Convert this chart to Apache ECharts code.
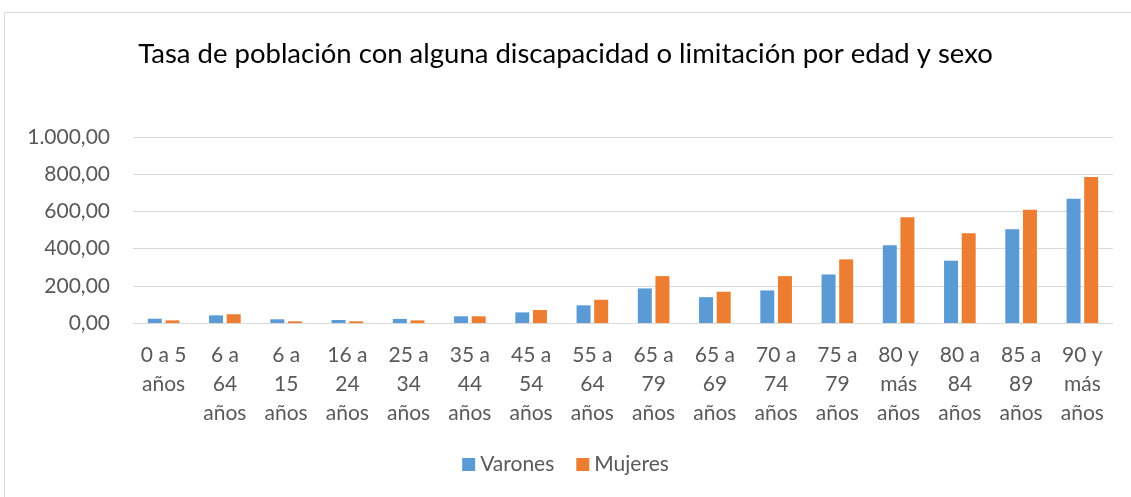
<!DOCTYPE html>
<html>
<head>
<meta charset="utf-8">
<script src="https://cdn.jsdelivr.net/npm/echarts@6/dist/echarts.min.js"></script>
<style>
  html, body { margin: 0; padding: 0; background: #fff; }
  #frame {
    position: absolute; left: 4px; top: 12px; width: 1140px; height: 500px;
    border: 1px solid #d9d9d9; box-sizing: border-box;
  }
  #chart { position: absolute; left: 0; top: 0; width: 1131px; height: 497px; }
</style>
</head>
<body>
<div id="frame"></div>
<div id="chart"></div>
<script>
// categorías (grupos de edad)
const categories = [
  '0 a 5\naños', '6 a\n64\naños', '6 a\n15\naños', '16 a\n24\naños',
  '25 a\n34\naños', '35 a\n44\naños', '45 a\n54\naños', '55 a\n64\naños',
  '65 a\n79\naños', '65 a\n69\naños', '70 a\n74\naños', '75 a\n79\naños',
  '80 y\nmás\naños', '80 a\n84\naños', '85 a\n89\naños', '90 y\nmás\naños'
]
// tasa varones
const varones = [23, 41, 20, 16, 22, 36, 57, 95, 186, 139, 175, 261, 418, 335, 504, 668]
// tasa mujeres
const mujeres = [14, 47, 9, 9, 14, 36, 70, 125, 252, 168, 252, 342, 569, 483, 609, 785]
const titleText = 'Tasa de población con alguna discapacidad o limitación por edad y sexo'

const fontFam = 'Lato, "Liberation Sans", sans-serif'
const chart = echarts.init(document.getElementById('chart'))

// formato 1.000,00
function fmt (v) {
  const s = Math.round(v).toString().replace(/\B(?=(\d{3})+(?!\d))/g, '.')
  return s + ',00'
}

chart.setOption({
  animation: false,
  title: {
    text: titleText,
    left: 'center',
    top: 35,
    textStyle: { fontFamily: fontFam, fontSize: 27.5, fontWeight: 'normal', color: '#000' },
  },
  legend: {
    data: ['Varones', 'Mujeres'],
    bottom: 17,
    left: 'center',
    icon: 'rect',
    itemWidth: 13,
    itemHeight: 13,
    itemGap: 22,
    itemStyle: { borderWidth: 0 },
    textStyle: { fontFamily: fontFam, fontSize: 21, color: '#595959' },
  },
  grid: { left: 133, right: 18, top: 137, bottom: 174 },
  xAxis: {
    type: 'category',
    data: categories,
    axisLine: { show: true, lineStyle: { color: '#d9d9d9', width: 1 } },
    axisTick: { show: false },
    axisLabel: {
      interval: 0,
      margin: 18,
      lineHeight: 29,
      fontFamily: fontFam,
      fontSize: 21,
      color: '#595959',
    },
  },
  yAxis: {
    type: 'value',
    min: 0,
    max: 1000,
    interval: 200,
    axisLine: { show: false },
    axisTick: { show: false },
    splitLine: { lineStyle: { color: '#d9d9d9', width: 1 } },
    axisLabel: {
      margin: 23,
      fontFamily: fontFam,
      fontSize: 21,
      color: '#595959',
      formatter: fmt,
    },
  },
  series: [
    {
      name: 'Varones',
      type: 'bar',
      data: varones,
      barWidth: 14,
      barGap: '26%',
      itemStyle: { color: '#5b9bd5' },
    },
    {
      name: 'Mujeres',
      type: 'bar',
      data: mujeres,
      barWidth: 14,
      itemStyle: { color: '#ed7d31' },
    },
  ],
})
</script>
</body>
</html>
